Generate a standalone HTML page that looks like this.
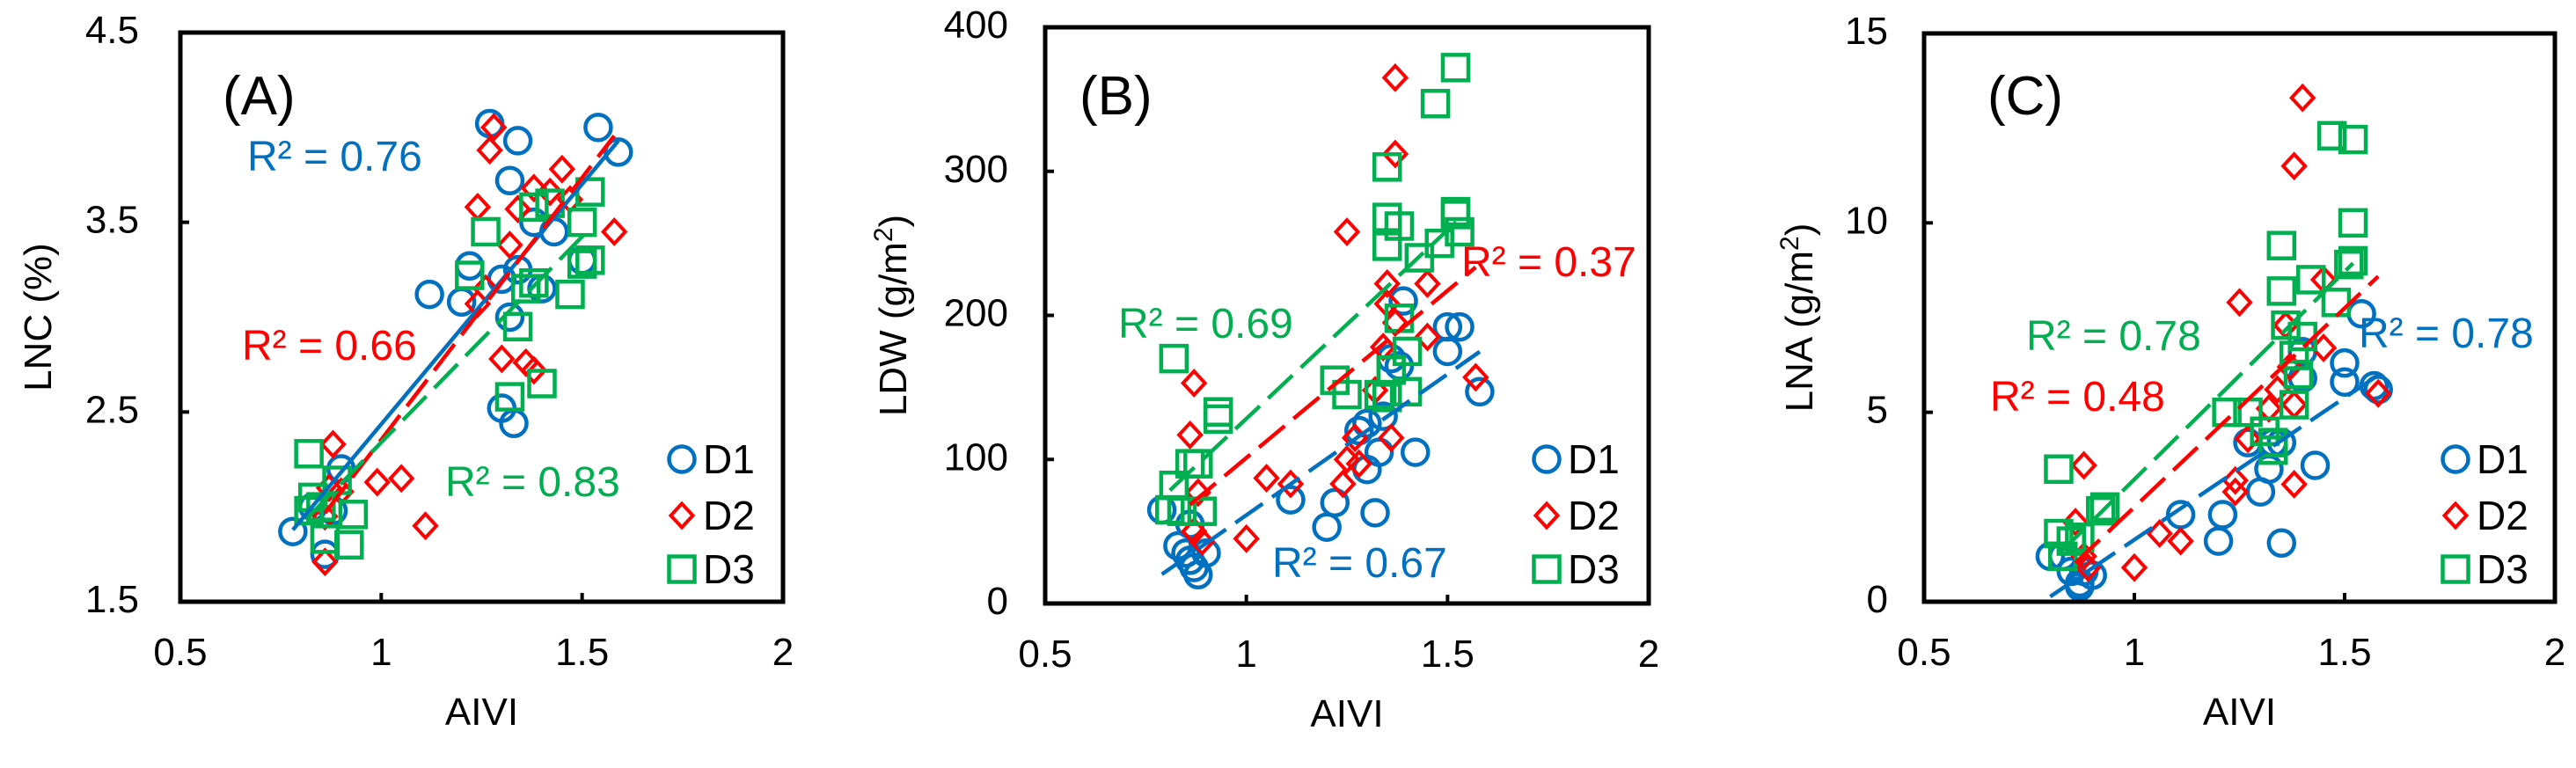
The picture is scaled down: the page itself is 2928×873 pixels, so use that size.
<!DOCTYPE html>
<html><head><meta charset="utf-8"><style>
html,body{margin:0;padding:0;background:#fff;}
svg{display:block;font-family:"Liberation Sans",Arial,sans-serif;}
</style></head><body>
<svg id="fig" width="2928" height="873" viewBox="0 0 2928 873" xmlns="http://www.w3.org/2000/svg"></svg>
<script>
// ---------- data ----------
const xTicks = [0.5, 1, 1.5, 2];
const xTickLabels = ["0.5", "1", "1.5", "2"];
const seriesNames = ["D1", "D2", "D3"];

// Panel A: LNC (%)
const aYTicks = [1.5, 2.5, 3.5, 4.5];
const aYTickLabels = ["1.5", "2.5", "3.5", "4.5"];
const aD1x = [1.27,1.34,1.54,1.59,1.32,1.22,1.30,1.12,1.20,1.34,1.40,1.43,1.38,1.32,1.30,1.33,0.90,0.78,0.86,0.83,0.88,1.50];
const aD1y = [4.02,3.93,4.00,3.87,3.72,3.27,3.20,3.12,3.08,3.25,3.15,3.45,3.50,3.00,2.52,2.44,2.20,1.87,1.75,2.00,1.98,3.30];
const aD2x = [1.28,1.27,1.45,1.38,1.42,1.47,1.24,1.34,1.32,1.58,1.26,1.24,1.30,1.36,1.38,0.88,0.99,1.05,1.11,0.86,0.87,0.90,0.86];
const aD2y = [4.00,3.88,3.78,3.68,3.66,3.62,3.58,3.57,3.38,3.45,3.15,3.07,2.78,2.76,2.72,2.33,2.13,2.15,1.90,1.71,2.10,2.08,1.95];
const aD3x = [1.52,1.38,1.42,1.50,1.26,1.22,1.38,1.36,1.47,1.50,1.52,1.34,1.32,1.40,0.82,0.89,0.83,0.82,0.93,0.92,0.86,0.85];
const aD3y = [3.66,3.58,3.60,3.50,3.45,3.22,3.18,3.15,3.12,3.28,3.30,2.95,2.58,2.65,2.28,2.14,2.05,1.98,1.96,1.80,1.83,2.00];
const aR2 = ["R² = 0.76", "R² = 0.66", "R² = 0.83"];

// Panel B: LDW (g/m2)
const bYTicks = [0, 100, 200, 300, 400];
const bYTickLabels = ["0", "100", "200", "300", "400"];
const bD1x = [0.79,0.83,0.85,0.86,0.87,0.88,0.90,0.86,1.11,1.20,1.22,1.30,1.32,1.28,1.30,1.34,1.33,1.42,1.38,1.39,1.50,1.53,1.50,1.58,1.36];
const bD1y = [65,40,35,30,25,20,35,55,72,53,70,93,63,120,125,130,105,105,165,210,192,192,175,147,170];
const bD2x = [1.37,1.37,1.25,1.35,1.45,1.35,1.37,1.45,1.34,1.57,0.87,0.86,1.32,1.36,1.27,1.28,1.25,1.24,1.05,1.11,0.88,0.87,0.89,1.00];
const bD2y = [365,312,258,222,222,208,195,185,178,157,153,117,148,115,115,97,100,83,87,83,77,50,43,45];
const bD3x = [1.52,1.47,1.35,1.35,1.38,1.35,1.43,1.48,1.52,1.52,1.53,1.38,1.40,1.36,1.22,1.25,1.33,1.35,1.40,0.82,0.93,0.93,0.86,0.88,0.82,0.81,0.84,0.89];
const bD3y = [372,347,303,268,262,248,240,250,270,272,258,198,175,162,155,145,145,143,147,170,133,128,97,97,82,65,64,64];
const bR2 = ["R² = 0.67", "R² = 0.37", "R² = 0.69"];

// Panel C: LNA (g/m2)
const cYTicks = [0, 5, 10, 15];
const cYTickLabels = ["0", "5", "10", "15"];
const cD1x = [1.54,1.50,1.50,1.58,1.57,1.40,1.40,1.33,1.35,1.27,1.32,1.30,1.43,1.35,1.11,1.21,1.20,0.80,0.83,0.85,0.87,0.88,0.90,0.87];
const cD1y = [7.6,6.3,5.8,5.6,5.7,6.6,5.9,4.2,4.2,4.2,3.5,2.9,3.6,1.55,2.3,2.3,1.6,1.2,1.2,0.8,0.5,0.8,0.7,0.4];
const cD2x = [1.40,1.38,1.45,1.25,1.36,1.45,1.37,1.34,1.38,1.32,1.58,1.27,1.24,1.24,1.38,0.88,0.86,1.06,1.11,1.00,0.88,0.89];
const cD2y = [13.3,11.5,8.5,7.9,7.3,6.7,6.2,5.6,5.2,5.1,5.5,4.3,3.2,2.9,3.1,3.6,2.1,1.8,1.6,0.9,1.2,0.9];
const cD3x = [1.47,1.52,1.52,1.51,1.52,1.35,1.35,1.42,1.48,1.36,1.40,1.38,1.39,1.38,1.22,1.27,1.31,1.33,1.33,0.93,0.92,0.82,0.82,0.85,0.87,0.83];
const cD3y = [12.3,12.2,10.0,8.9,9.0,9.4,8.2,8.5,7.9,7.3,7.0,6.5,6.0,5.2,5.0,5.0,4.5,4.2,4.0,2.5,2.4,3.5,1.8,1.6,1.7,1.2];
const cR2 = ["R² = 0.78", "R² = 0.48", "R² = 0.78"];

// ---------- drawing ----------
const NS = "http://www.w3.org/2000/svg";
const svg = document.getElementById("fig");
const COLORS = ["#0070C0", "#FF0000", "#00B050"];
function mk(tag, parent, attrs) {
  const e = document.createElementNS(NS, tag);
  for (const k in attrs) e.setAttribute(k, attrs[k]);
  parent.appendChild(e);
  return e;
}
function fit(xs, ys) {
  const n = xs.length;
  let sx=0, sy=0, sxx=0, sxy=0;
  for (let i=0;i<n;i++){sx+=xs[i];sy+=ys[i];sxx+=xs[i]*xs[i];sxy+=xs[i]*ys[i];}
  const b = (n*sxy - sx*sy)/(n*sxx - sx*sx);
  const a = (sy - b*sx)/n;
  return {a, b, x0: Math.min(...xs), x1: Math.max(...xs)};
}
function marker(g, kind, cx, cy, color) {
  let m;
  if (kind === 0) m = mk("circle", g, {cx, cy, r: 14.5, fill: "none", stroke: color, "stroke-width": 4.5});
  else if (kind === 1) m = mk("polygon", g, {points: `${cx},${cy-13.5} ${cx+12.5},${cy} ${cx},${cy+13.5} ${cx-12.5},${cy}`, fill: "none", stroke: color, "stroke-width": 4});
  else m = mk("rect", g, {x: cx-14.5, y: cy-14.5, width: 29, height: 29, fill: "none", stroke: color, "stroke-width": 4.5});
  return m;
}

function panel(cfg) {
  const g = mk("g", svg, {});
  
  
  const {L, R, T, B, ymin, ymax} = cfg;
  const sx = v => L + (v - 0.5) / 1.5 * (R - L);
  const sy = v => B - (v - ymin) / (ymax - ymin) * (B - T);

  xTicks.forEach((t, i) => {
    if (i > 0 && i < xTicks.length - 1) {
      const tk = mk("line", g, {x1: sx(t), x2: sx(t), y1: B, y2: B - 10, stroke: "#000", "stroke-width": 4});
      
      
    }
    const tl = mk("text", g, {x: sx(t), y: B + 72, "font-size": 44, "text-anchor": "middle", fill: "#000"});
    tl.textContent = xTickLabels[i];
    
    
  });
  cfg.yTicks.forEach((t, i) => {
    if (i > 0 && i < cfg.yTicks.length - 1) {
      const tk = mk("line", g, {x1: L, x2: L + 10, y1: sy(t), y2: sy(t), stroke: "#000", "stroke-width": 4});
      
      
    }
    const tl = mk("text", g, {x: cfg.tickRight, y: sy(t) + 12, "font-size": 44, "text-anchor": "end", fill: "#000"});
    tl.textContent = cfg.yTickLabels[i];
    
    
  });

  const xt = mk("text", g, {x: (L + R) / 2, y: B + 140, "font-size": 44, "text-anchor": "middle", fill: "#000"});
  xt.textContent = "AIVI";
  
  
  const yt = mk("text", g, {x: 0, y: 0, "font-size": 44, "text-anchor": "middle", fill: "#000",
    transform: `translate(${cfg.titleX},${(T + B) / 2}) rotate(-90)`});
  
  
  if (cfg.unitSup) {
    yt.textContent = cfg.yTitle;
    const sup = mk("tspan", yt, {"font-size": 30, dy: -16});
    sup.textContent = "2";
    const tail = mk("tspan", yt, {"font-size": 44, dy: 16});
    tail.textContent = ")";
  } else yt.textContent = cfg.yTitle;

  cfg.series.forEach((s, k) => {
    const sg = mk("g", g, {});
    
    
    s.x.forEach((xv, i) => {
      const m = marker(sg, k, sx(xv), sy(s.y[i]), COLORS[k]);
      
      
    });
  });
  cfg.series.forEach((s, k) => {
    const f = fit(s.x, s.y);
    const attrs = {x1: sx(f.x0), y1: sy(f.a + f.b * f.x0), x2: sx(f.x1), y2: sy(f.a + f.b * f.x1),
      stroke: COLORS[k], "stroke-width": 4.5};
    if (!(cfg.solidFirst && k === 0)) attrs["stroke-dasharray"] = "38 13";
    const ln = mk("line", g, attrs);
    
    
  });

  cfg.r2.forEach((r, k) => {
    const t = mk("text", g, {x: r.x, y: r.y + 17, "font-size": 48, fill: COLORS[r.c]});
    t.textContent = r.text;
    
    
  });

  const pl = mk("text", g, {x: cfg.labelX, y: 130, "font-size": 62, fill: "#000"});
  pl.textContent = cfg.label;
  
  

  const lg = mk("g", g, {});
  
  
  [522, 586, 647].forEach((yy, k) => {
    const e = mk("g", lg, {});
    
    
    marker(e, k, cfg.legX, yy, COLORS[k]);
    const tt = mk("text", e, {x: cfg.legX + 24, y: yy + 16, "font-size": 46, fill: "#000"});
    tt.textContent = seriesNames[k];
  });

  const fr = mk("rect", g, {x: L, y: T, width: R - L, height: B - T, fill: "none", stroke: "#000", "stroke-width": 5});
  
  
}

panel({id: "panel-a-lnc", L: 205, R: 890, T: 37, B: 684, ymin: 1.5, ymax: 4.5,
  yTicks: aYTicks, yTickLabels: aYTickLabels, tickRight: 158, titleX: 58, yTitle: "LNC (%)", unitSup: false,
  solidFirst: true, label: "(A)", labelX: 253, legX: 775,
  series: [{x: aD1x, y: aD1y}, {x: aD2x, y: aD2y}, {x: aD3x, y: aD3y}],
  r2: [{text: aR2[0], c: 0, x: 281, y: 177}, {text: aR2[1], c: 1, x: 275, y: 392}, {text: aR2[2], c: 2, x: 506, y: 547}]});

panel({id: "panel-b-ldw", L: 1188, R: 1874, T: 31, B: 686, ymin: 0, ymax: 400,
  yTicks: bYTicks, yTickLabels: bYTickLabels, tickRight: 1146, titleX: 1030, yTitle: "LDW (g/m", unitSup: true,
  solidFirst: false, label: "(B)", labelX: 1227, legX: 1758,
  series: [{x: bD1x, y: bD1y}, {x: bD2x, y: bD2y}, {x: bD3x, y: bD3y}],
  r2: [{text: bR2[0], c: 0, x: 1446, y: 639}, {text: bR2[1], c: 1, x: 1661, y: 297}, {text: bR2[2], c: 2, x: 1271, y: 367}]});

panel({id: "panel-c-lna", L: 2187, R: 2904, T: 38, B: 684, ymin: 0, ymax: 15,
  yTicks: cYTicks, yTickLabels: cYTickLabels, tickRight: 2146, titleX: 2060, yTitle: "LNA (g/m", unitSup: true,
  solidFirst: false, label: "(C)", labelX: 2259, legX: 2791,
  series: [{x: cD1x, y: cD1y}, {x: cD2x, y: cD2y}, {x: cD3x, y: cD3y}],
  r2: [{text: cR2[2], c: 2, x: 2303, y: 381}, {text: cR2[1], c: 1, x: 2262, y: 450}, {text: cR2[0], c: 0, x: 2681, y: 378}]});
</script>
</body></html>
